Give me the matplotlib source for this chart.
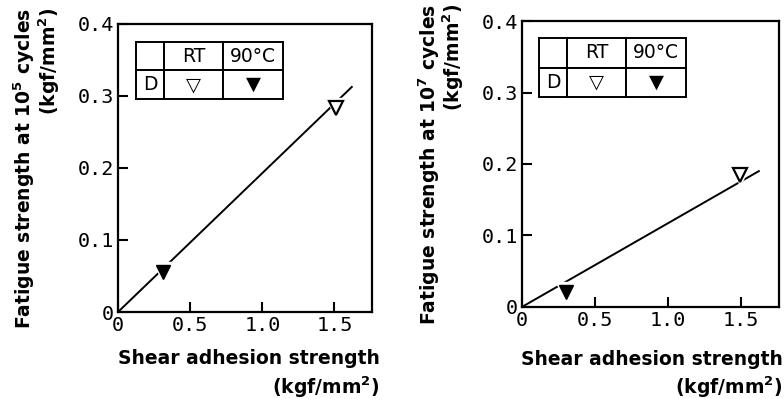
import matplotlib
matplotlib.use('Agg')
import matplotlib.pyplot as plt
from matplotlib.ticker import FuncFormatter

# left panel: fatigue strength at 10^5 cycles
rt_x_5 = [1.51]
rt_y_5 = [0.283]
hot_x_5 = [0.31]
hot_y_5 = [0.056]
fit_x_5 = [0.0, 1.62]
fit_y_5 = [0.0, 0.3125]

# right panel: fatigue strength at 10^7 cycles
rt_x_7 = [1.49]
rt_y_7 = [0.185]
hot_x_7 = [0.30]
hot_y_7 = [0.021]
fit_x_7 = [0.0, 1.62]
fit_y_7 = [0.0, 0.19]

x_ticks = [0, 0.5, 1.0, 1.5]
y_ticks = [0, 0.1, 0.2, 0.3, 0.4]
legend_rows = [['', 'RT', '90°C'], ['D', '\u25bd', '\u25bc']]

plt.rcParams['font.family'] = 'DejaVu Sans'
plt.rcParams['mathtext.fontset'] = 'dejavusans'

fig = plt.figure(figsize=(7.84, 3.99), dpi=100)
ax1 = fig.add_axes([0.1505, 0.218, 0.324, 0.722])
ax2 = fig.add_axes([0.666, 0.231, 0.328, 0.716])


def fmt(v, pos):
    return '0' if v == 0 else '%.1f' % v


def style_axes(ax, cycles_exp, table_bbox, ylab_x, xlab_xy):
    ax.set_xlim(0, 1.76)
    ax.set_ylim(0, 0.4)
    ax.set_xticks(x_ticks)
    ax.set_yticks(y_ticks)
    ax.xaxis.set_major_formatter(FuncFormatter(fmt))
    ax.yaxis.set_major_formatter(FuncFormatter(fmt))
    ax.tick_params(direction='in', length=7, width=1.5, pad=3)
    for lab in ax.get_xticklabels() + ax.get_yticklabels():
        lab.set_family('DejaVu Sans Mono')
        lab.set_fontsize(14.5)
    for sp in ax.spines.values():
        sp.set_linewidth(1.6)
    ax.set_xlabel('Shear adhesion strength\n(kgf/mm$^\\mathbf{2}$)',
                  fontsize=13.5, fontweight='bold', ha='right',
                  multialignment='right', linespacing=1.3)
    ax.xaxis.set_label_coords(*xlab_xy)
    ax.set_ylabel('Fatigue strength at 10$^\\mathbf{%d}$ cycles\n(kgf/mm$^\\mathbf{2}$)' % cycles_exp,
                  fontsize=13.5, fontweight='bold', multialignment='right',
                  linespacing=0.95)
    ax.yaxis.set_label_coords(ylab_x, 0.5)

    tab = ax.table(cellText=legend_rows, cellLoc='center', bbox=table_bbox,
                   colWidths=[0.19, 0.40, 0.41])
    tab.auto_set_font_size(False)
    for (r, c), cell in tab.get_celld().items():
        cell.set_linewidth(1.4)
        cell.get_text().set_fontsize(13.5)
    tab.get_celld()[(1, 1)].get_text().set_fontsize(14)
    tab.get_celld()[(1, 2)].get_text().set_fontsize(14)


style_axes(ax1, 5, [0.071, 0.74, 0.579, 0.198], -0.222, (1.03, -0.13))
style_axes(ax2, 7, [0.066, 0.735, 0.572, 0.205], -0.218, (1.012, -0.15))

for ax, fx, fy, rx, ry, hx, hy in [
        (ax1, fit_x_5, fit_y_5, rt_x_5, rt_y_5, hot_x_5, hot_y_5),
        (ax2, fit_x_7, fit_y_7, rt_x_7, rt_y_7, hot_x_7, hot_y_7)]:
    ax.plot(fx, fy, color='black', lw=1.4, zorder=2)
    # white halo so the fitted line breaks around the symbols
    ax.plot(rx, ry, 'v', ms=15, color='white', zorder=3, clip_on=False)
    ax.plot(hx, hy, 'v', ms=15, color='white', zorder=3, clip_on=False)
    ax.plot(rx, ry, 'v', ms=10, mfc='white', mec='black', mew=1.6, zorder=4)
    ax.plot(hx, hy, 'v', ms=10, mfc='black', mec='black', zorder=4)

fig.savefig('out.png', dpi=100)
